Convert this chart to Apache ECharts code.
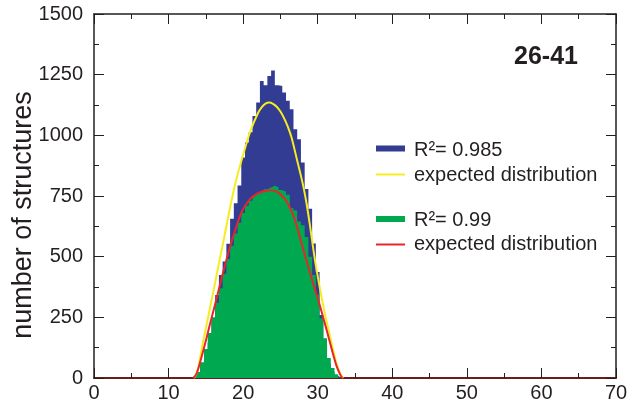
<!DOCTYPE html>
<html>
<head>
<meta charset="utf-8">
<script src="https://cdn.jsdelivr.net/npm/echarts@6/dist/echarts.min.js"></script>
<style>
html,body{margin:0;padding:0;background:#fff;}
#chart{width:631px;height:403px;}
</style>
</head>
<body>
<div id="chart"></div>
<script>
// histogram bin centres (bin width 0.5)
var binCenters = [13.5,14,14.5,15,15.5,16,16.5,17,17.5,18,18.5,19,19.5,20,20.5,21,21.5,22,22.5,23,23.5,24,24.5,25,25.5,26,26.5,27,27.5,28,28.5,29,29.5,30,30.5,31,31.5,32,32.5,33,33.5];
var blueCounts = [0,25,60,100,144,246,342,424,480,553,656,720,793,909,970,1013,1080,1135,1224,1206,1244,1267,1206,1203,1176,1142,1108,1025,984,888,779,697,554,437,260,140,60,25,8,0,0];
var greenCounts = [0,25,65,120,185,250,310,370,430,490,545,595,640,680,710,730,750,760,768,778,785,792,786,775,768,755,700,690,645,629,581,500,424,342,246,164,82,41,15,0,0];

// expected distribution curves
var yellowX = [13.4,13.7,14,14.55,15,15.45,16,16.35,17,17.25,18,18.5,19.1,20,21,22,22.5,23,23.5,24,24.5,25,25.5,26,26.5,27.2,28,28.5,29,29.6,30.3,31,31.6,32,32.5,33,33.4];
var yellowY = [0,14,45,137,205,273,355,410,510,547,665,740,820,920,1020,1092,1116,1131,1135,1130,1118,1098,1070,1035,990,902,800,720,620,492,369,260,178,125,62,20,0];
var redX = [13.3,13.7,14,14.86,15.5,16,16.5,17.1,17.7,18.3,19,19.8,20.5,21,22,23,23.6,24.5,25.6,26.3,26.9,27.5,28,28.5,29,29.5,30,30.5,31,31.5,32,32.5,33,33.3];
var redY = [0,15,40,137,215,275,335,410,480,547,615,684,720,740,762,772,774,768,738,700,656,592,537,483,430,378,330,275,220,163,105,52,15,0];

var xTicks = {min:0, max:70, interval:10};
var yTicks = {min:0, max:1500, interval:250};

function pairs(xs, ys){ var o=[]; for(var i=0;i<xs.length;i++){o.push([xs[i], ys[i]]);} return o; }
function plain(v){ return String(v); }

var FONT = '"Liberation Sans", Arial, Helvetica, sans-serif';
var TXT = '#231f20';

var chart = echarts.init(document.getElementById('chart'), null, {renderer:'canvas'});
var option = {
  animation:false,
  backgroundColor:'#ffffff',
  grid:{left:94, right:15, top:14, bottom:23, containLabel:false},
  xAxis:[{
    type:'value', min:xTicks.min, max:xTicks.max, interval:xTicks.interval, position:'bottom',
    axisLine:{show:true, onZero:false, lineStyle:{color:'#6b1c1c', width:2}},
    axisTick:{show:true, inside:true, length:10, lineStyle:{color:'#231f20', width:1}},
    minorTick:{show:true, splitNumber:2, length:5, lineStyle:{color:'#231f20', width:1}},
    axisLabel:{show:true, fontSize:20, color:TXT, fontFamily:FONT, margin:5, formatter:plain},
    splitLine:{show:false}
  },{
    type:'value', min:xTicks.min, max:xTicks.max, interval:xTicks.interval, position:'top',
    axisLine:{show:true, onZero:false, lineStyle:{color:'#231f20', width:1.5}},
    axisTick:{show:true, inside:true, length:10, lineStyle:{color:'#231f20', width:1}},
    minorTick:{show:true, splitNumber:2, length:5, lineStyle:{color:'#231f20', width:1}},
    axisLabel:{show:false},
    splitLine:{show:false}
  }],
  yAxis:[{
    type:'value', min:yTicks.min, max:yTicks.max, interval:yTicks.interval, position:'left',
    axisLine:{show:true, onZero:false, lineStyle:{color:'#231f20', width:1.5}},
    axisTick:{show:true, inside:true, length:10, lineStyle:{color:'#231f20', width:1}},
    minorTick:{show:true, splitNumber:2, length:5, lineStyle:{color:'#231f20', width:1}},
    axisLabel:{show:true, fontSize:20, color:TXT, fontFamily:FONT, margin:11, formatter:plain},
    splitLine:{show:false}
  },{
    type:'value', min:yTicks.min, max:yTicks.max, interval:yTicks.interval, position:'right',
    axisLine:{show:true, onZero:false, lineStyle:{color:'#231f20', width:1.5}},
    axisTick:{show:true, inside:true, length:10, lineStyle:{color:'#231f20', width:1}},
    minorTick:{show:true, splitNumber:2, length:5, lineStyle:{color:'#231f20', width:1}},
    axisLabel:{show:false},
    splitLine:{show:false}
  }],
  series:[
    {type:'line', name:'R2 0.985', step:'middle', data:pairs(binCenters, blueCounts), showSymbol:false,
     lineStyle:{width:0, opacity:0}, areaStyle:{color:'#333c93', opacity:1}, z:2},
    {type:'line', name:'R2 0.99', step:'middle', data:pairs(binCenters, greenCounts), showSymbol:false,
     lineStyle:{width:0, opacity:0}, areaStyle:{color:'#00a94f', opacity:1}, z:3},
    {type:'line', name:'expected distribution (yellow)', data:pairs(yellowX, yellowY), showSymbol:false, smooth:0.3,
     lineStyle:{color:'#f7ec1f', width:2}, z:4},
    {type:'line', name:'expected distribution (red)', data:pairs(redX, redY), showSymbol:false, smooth:0.3,
     lineStyle:{color:'#e5262b', width:2}, z:5}
  ],
  graphic:[
    {type:'text', x:24, y:215, rotation:Math.PI/2,
     style:{text:'number of structures', font:'27px '+FONT, fill:TXT, textAlign:'center', textVerticalAlign:'middle'}},
    {type:'text', x:578, y:57,
     style:{text:'26-41', font:'bold 25px '+FONT, fill:TXT, textAlign:'right', textVerticalAlign:'middle'}},
    {type:'rect', shape:{x:376, y:145.5, width:29, height:6}, style:{fill:'#333c93'}},
    {type:'text', x:414, y:150, style:{text:'R\u00b2= 0.985', font:'20px '+FONT, fill:TXT, textAlign:'left', textVerticalAlign:'middle'}},
    {type:'rect', shape:{x:376, y:173.5, width:29, height:2}, style:{fill:'#f7ec1f'}},
    {type:'text', x:414, y:175, style:{text:'expected distribution', font:'20px '+FONT, fill:TXT, textAlign:'left', textVerticalAlign:'middle'}},
    {type:'rect', shape:{x:376, y:216, width:29, height:6}, style:{fill:'#00a94f'}},
    {type:'text', x:414, y:220, style:{text:'R\u00b2= 0.99', font:'20px '+FONT, fill:TXT, textAlign:'left', textVerticalAlign:'middle'}},
    {type:'rect', shape:{x:376, y:243.5, width:29, height:2}, style:{fill:'#e5262b'}},
    {type:'text', x:414, y:244, style:{text:'expected distribution', font:'20px '+FONT, fill:TXT, textAlign:'left', textVerticalAlign:'middle'}}
  ]
};
chart.setOption(option);
</script>
</body>
</html>
